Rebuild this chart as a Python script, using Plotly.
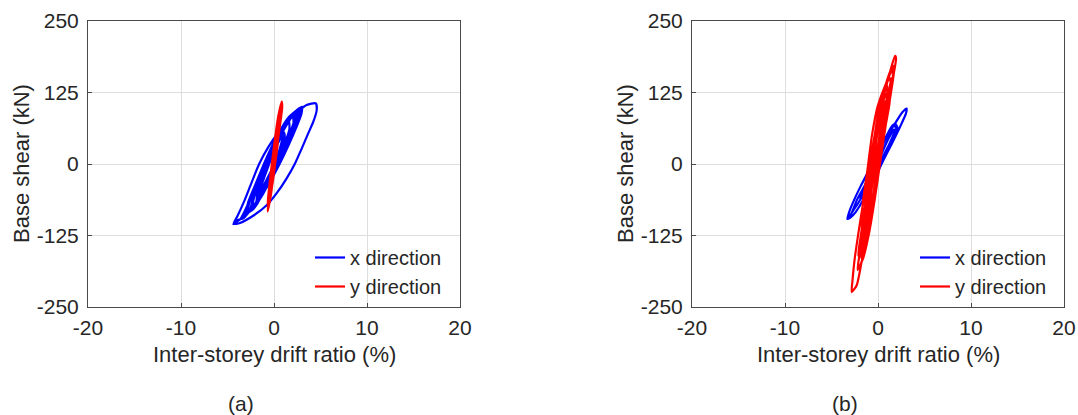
import plotly.graph_objects as go

# ---------------- data ----------------
# Each loop: drift (%) list and base-shear (kN) list, traced in time order.
# Panel (a), x direction
a_x_loops_drift = [
    [0.0, 0.5, 1.1, 1.0, 0.4, -0.4, -1.4],
    [-1.3, -0.7, 0.1, 1.1, 1.15, 0.6, -0.2, -1.4],
    [-1.9, -1.8, -1.2, -0.4, 0.5, 1.6, 1.65, 1.1, 0.3, -0.6, -1.9],
    [-2.3, -2.2, -1.6, -0.8, 0.1, 1.0, 2.0, 2.1, 1.6, 0.8, -0.1, -1.1, -2.3],
    [-2.5, -2.4, -1.9, -1.1, -0.2, 0.8, 1.8, 2.2, 2.25, 1.8, 1.0, 0.2, -0.8, -1.8, -2.5],
    [-2.7, -2.7, -2.1, -1.2, -0.3, 0.7, 1.6, 2.4, 2.5, 2.1, 1.4, 0.6, -0.4, -1.4, -2.7],
    [-2.9, -2.8, -2.0, -1.0, 0.1, 1.2, 2.6, 2.65, 2.0, 1.1, 0.1, -1.0, -2.0, -2.9],
    [-3.0, -2.9, -2.3, -1.5, -0.6, 0.5, 1.6, 2.7, 2.7, 2.2, 1.3, 0.4, -0.8, -1.9, -3.0],
    [-3.1, -3.0, -2.6, -2.0, -1.0, 0.0, 1.0, 2.0, 2.8, 2.75, 2.3, 1.6, 0.8, -0.2, -1.2, -2.2, -3.1],
    [-3.3, -3.0, -2.2, -1.2, -0.1, 1.1, 2.1, 3.0, 2.95, 2.4, 1.6, 0.6, -0.6, -1.8, -2.8, -3.3],
    [-3.9, -4.37, -3.9, -3.2, -2.4, -1.6, -0.6, 0.5, 1.5, 2.6, 3.5, 4.5,
     4.59, 4.23, 3.69, 2.98, 2.26, 1.36, 0.29, -0.79, -2.2, -3.66, -4.37],
    [-3.6, -2.9, -2.0, -1.0, 0.0, 1.0, 1.9, 2.5, 2.45, 1.9, 1.0, 0.0, -1.0, -1.8],
]
a_x_loops_shear = [
    [0, 20, 55, 44, 16, -18, -55],
    [-36, -8, 26, 55, 44, 16, -18, -52],
    [-72, -54, -26, 8, 42, 75, 60, 34, 4, -30, -72],
    [-80, -62, -36, -4, 30, 62, 84, 72, 48, 18, -16, -50, -80],
    [-82, -68, -40, -8, 26, 60, 84, 90, 80, 58, 30, 2, -32, -64, -82],
    [-84, -70, -44, -10, 24, 58, 82, 92, 82, 62, 36, 8, -26, -58, -84],
    [-86, -68, -36, 0, 38, 70, 95, 80, 54, 22, -12, -46, -72, -86],
    [-88, -74, -48, -16, 18, 54, 82, 96, 86, 64, 34, 4, -34, -66, -88],
    [-89, -80, -62, -36, -2, 32, 62, 86, 98, 88, 68, 42, 14, -20, -50, -74, -89],
    [-95, -78, -46, -10, 28, 64, 88, 100, 88, 64, 34, 0, -36, -66, -86, -95],
    [-98, -105, -90, -65, -32, 0, 30, 56, 76, 92, 103, 106,
     94, 74, 54, 27, 1, -25, -51, -72, -90, -103, -105],
    [-96, -74, -42, -8, 26, 58, 82, 93, 82, 60, 30, -2, -34, -58],
]

# Panel (a), y direction
a_y_loops_drift = [
    [0.0, -0.02, 0.35, 0.38, 0.16, -0.07, -0.3],
    [-0.23, -0.03, 0.27, 0.55, 0.58, 0.33, 0.03, -0.22, -0.45],
    [-0.53, -0.28, 0.02, 0.32, 0.7, 0.74, 0.48, 0.18, -0.12, -0.55],
    [-0.58, -0.33, -0.03, 0.32, 0.78, 0.82, 0.53, 0.2, -0.12, -0.37, -0.62],
    [-0.66, -0.48, -0.23, 0.07, 0.42, 0.83, 0.88, 0.58, 0.23, -0.07, -0.37, -0.68],
    [-0.6, -0.4, -0.15, 0.15, 0.5, 0.7, 0.65, 0.35, 0.05, -0.2],
]
a_y_loops_shear = [
    [0, 12, 45, 32, 5, -20, -35],
    [-12, 2, 40, 80, 66, 30, -10, -40, -58],
    [-50, -18, 22, 62, 95, 82, 48, 8, -30, -70],
    [-55, -20, 18, 58, 102, 90, 55, 12, -28, -58, -78],
    [-65, -35, 0, 40, 80, 109, 98, 62, 18, -22, -58, -83],
    [-62, -35, 2, 42, 82, 100, 86, 48, 8, -20],
]

# Panel (b), x direction
b_x_loops_drift = [
    [0.0, 0.4, 1.0, 1.6, 1.8, 1.35, 0.65, -0.15, -0.9, -1.5],
    [-1.2, -0.5, 0.3, 1.0, 1.6, 2.0, 1.65, 0.95, 0.15, -0.75, -1.9],
    [-1.7, -1.0, -0.2, 0.6, 1.3, 1.83, 2.1, 1.55, 0.75, -0.05, -1.0],
    [-1.9, -2.6, -3.1, -3.3, -3.1, -2.6, -1.9, -1.0, 0.0, 0.9, 1.8, 2.6, 3.08,
     3.0, 2.4, 1.5, 0.5, -0.5, -1.5, -2.4, -3.0, -3.3],
    [-2.9, -2.3, -1.5, -0.6, 0.3, 1.1, 1.8, 2.1],
]
b_x_loops_shear = [
    [0, 18, 40, 60, 58, 40, 14, -16, -36, -50],
    [-32, -4, 28, 52, 68, 62, 45, 20, -8, -36, -62],
    [-48, -22, 8, 38, 60, 71, 62, 45, 20, -8, -36],
    [-62, -80, -92, -96, -84, -64, -40, -12, 18, 46, 70, 90, 97,
     88, 66, 36, 4, -28, -60, -84, -94, -96],
    [-88, -64, -40, -12, 16, 44, 60, 62],
]

# Panel (b), y direction
b_y_loops_drift = [
    [0.0, -0.05, 0.7, 0.8, 0.4, -0.05, -0.5, -1.0],
    [-0.95, -0.55, -0.05, 0.9, 1.0, 0.65, 0.15, -0.35, -0.95, -1.6],
    [-1.6, -1.25, -0.75, -0.25, 0.25, 0.8, 1.3, 1.35, 0.95, 0.35, -0.25, -0.85, -1.4, -1.8],
    [-1.75, -1.65, -1.15, -0.65, -0.05, 0.6, 1.55, 1.6, 1.25, 0.65, 0.05, -0.55, -1.2],
    [-1.3, -0.95, -0.45, 0.15, 0.8, 1.1, 1.15, 0.75, 0.15, -0.45, -1.05, -1.7],
    [-1.5, -1.1, -0.6, 0.0, 0.6, 1.2, 1.25, 0.85, 0.3, -0.3, -0.9, -1.5],
    [-1.7, -1.35, -0.85, -0.25, 0.35, 1.0, 1.6, 1.7, 1.35, 0.85, 0.25, -0.35, -0.95, -1.6, -2.2],
    [-2.0, -1.55, -1.0, -0.4, 0.2, 0.8, 1.45, 1.5, 1.05, 0.5, -0.1, -0.7, -1.3, -1.9],
    [-2.1, -1.8, -1.3, -0.7, -0.1, 0.5, 1.29, 1.83,
     1.94, 1.47, 0.93, 0.4, -0.32, -1.04, -1.76, -2.29, -2.83,
     -2.75, -2.5, -2.1, -1.58, -0.86, -0.3, 0.0],
]
b_y_loops_shear = [
    [0, 20, 110, 95, 48, -8, -50, -85],
    [-50, -2, 55, 142, 125, 82, 25, -35, -95, -135],
    [-100, -55, 5, 62, 110, 138, 150, 135, 88, 28, -40, -100, -145, -165],
    [-115, -70, -12, 50, 100, 130, 165, 150, 110, 50, -15, -70, -110],
    [-80, -35, 25, 85, 120, 125, 110, 68, 8, -55, -110, -150],
    [-125, -85, -35, 22, 78, 118, 108, 70, 20, -35, -88, -130],
    [-115, -70, -12, 50, 110, 148, 172, 160, 120, 70, 5, -62, -120, -165, -185],
    [-160, -115, -62, -5, 52, 100, 150, 140, 100, 48, -12, -70, -120, -160],
    [-160, -120, -62, 0, 58, 110, 161, 189,
     185, 138, 91, 33, -37, -118, -171, -212, -224,
     -205, -165, -120, -66, 4, 55, 75],
]

x_ticks = [-20, -10, 0, 10, 20]
y_ticks = [-250, -125, 0, 125, 250]
x_range = [-20, 20]
y_range = [-250, 250]
series_names = ["x direction", "y direction"]
series_colors = ["#0000ff", "#ff0000"]
panel_labels = ["(a)", "(b)"]
x_title = "Inter-storey drift ratio (%)"
y_title = "Base shear (kN)"


def join(loops):
    out = []
    for lp in loops:
        out.extend(lp)
    return out


# ---------------- figure ----------------
W, H = 1078, 415
FONT = "Arial, Liberation Sans, Helvetica, sans-serif"
TXT = "#262626"


def px_x(p):
    return p / W


def px_y(p):
    return 1 - p / H


fig = go.Figure()

panels = [
    ("x", "y", "legend", a_x_loops_drift, a_x_loops_shear, a_y_loops_drift, a_y_loops_shear),
    ("x2", "y2", "legend2", b_x_loops_drift, b_x_loops_shear, b_y_loops_drift, b_y_loops_shear),
]
for xa, ya, lg, xd, xs, yd, ys in panels:
    fig.add_trace(go.Scatter(x=join(xd), y=join(xs), mode="lines", name=series_names[0],
                             line=dict(color=series_colors[0], width=2.2, shape="spline", smoothing=0.6),
                             xaxis=xa, yaxis=ya, legend=lg))
    fig.add_trace(go.Scatter(x=join(yd), y=join(ys), mode="lines", name=series_names[1],
                             line=dict(color=series_colors[1], width=2.2, shape="spline", smoothing=0.6),
                             xaxis=xa, yaxis=ya, legend=lg))

frames = [(88, 460), (692, 1064)]
top_px, bot_px = 21, 307

axis_common = dict(
    showgrid=True, gridcolor="#dedede", gridwidth=1,
    showline=True, linecolor="#4a4a4a", linewidth=1, mirror=True,
    ticks="inside", ticklen=4, tickcolor="#4a4a4a", tickwidth=1,
    zeroline=False, automargin=False, tickmode="array",
    tickfont=dict(family=FONT, size=21, color=TXT),
)

for i, (l, r) in enumerate(frames):
    sfx = "" if i == 0 else str(i + 1)
    fig.layout["xaxis" + sfx] = dict(
        axis_common, domain=[px_x(l), px_x(r)], range=x_range,
        tickvals=x_ticks, ticktext=[str(v) for v in x_ticks], ticklabelstandoff=2,
        anchor="y" + sfx,
    )
    fig.layout["yaxis" + sfx] = dict(
        axis_common, domain=[px_y(bot_px), px_y(top_px)], range=y_range,
        tickvals=y_ticks, ticktext=[str(v) for v in y_ticks], ticklabelstandoff=4,
        anchor="x" + sfx,
    )
    fig.add_annotation(text=x_title, x=px_x((l + r) / 2), y=px_y(354),
                       xref="paper", yref="paper", showarrow=False,
                       font=dict(family=FONT, size=22, color=TXT),
                       xanchor="center", yanchor="middle")
    fig.add_annotation(text=y_title, x=px_x(l - 67), y=px_y((top_px + bot_px) / 2),
                       xref="paper", yref="paper", showarrow=False, textangle=-90,
                       font=dict(family=FONT, size=22, color=TXT),
                       xanchor="center", yanchor="middle")
    fig.add_annotation(text=panel_labels[i], x=px_x((l + r) / 2 - 33), y=px_y(403),
                       xref="paper", yref="paper", showarrow=False,
                       font=dict(family=FONT, size=21, color=TXT),
                       xanchor="center", yanchor="middle")

legend_common = dict(
    bgcolor="rgba(0,0,0,0)", borderwidth=0,
    font=dict(family=FONT, size=20, color=TXT),
    xanchor="right", yanchor="bottom", tracegroupgap=0, itemwidth=30,
)
fig.update_layout(
    legend=dict(legend_common, x=px_x(447), y=px_y(306)),
    legend2=dict(legend_common, x=px_x(1052), y=px_y(306)),
)

fig.update_layout(
    width=W, height=H,
    margin=dict(l=0, r=0, t=0, b=0),
    paper_bgcolor="white", plot_bgcolor="white",
    showlegend=True,
    font=dict(family=FONT, color=TXT),
)

fig.write_html("out.html", config={"displayModeBar": False},
               post_script="document.body.style.margin='0px';")
